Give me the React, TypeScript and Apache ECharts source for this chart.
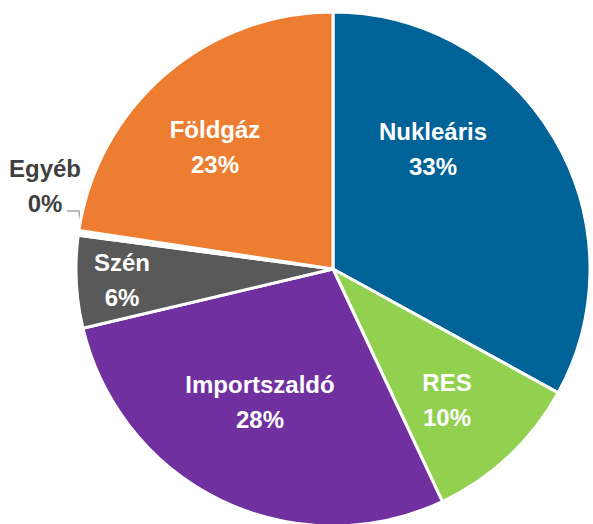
import React, { useEffect, useRef } from "react";
import * as echarts from "echarts";

const categories = ["Nukleáris", "RES", "Importszaldó", "Szén", "Egyéb", "Földgáz"];
const values = [33.0, 10.0, 28.3, 5.8, 0.3, 22.6];
const colors = ["#006398", "#92D050", "#7030A0", "#595959", "#FFFFFF", "#ED7D31"];

// label centres (layout only)
const labelPos: Record<number, [number, number]> = {
  0: [433, 149],
  1: [447, 400],
  2: [260, 402],
  3: [122, 280],
  4: [45, 186],
  5: [215, 147],
};

export default function App() {
  const ref = useRef<HTMLDivElement>(null);
  useEffect(() => {
    if (!ref.current) return;
    const chart = echarts.init(ref.current, undefined, { renderer: "svg" });
    chart.setOption({
      animation: false,
      series: [
        {
          type: "pie",
          center: [333, 269],
          radius: [0, 257],
          startAngle: 90,
          clockwise: true,
          avoidLabelOverlap: false,
          itemStyle: { borderColor: "#ffffff", borderWidth: 3 },
          label: {
            show: true,
            position: "inside",
            color: "#ffffff",
            fontFamily: "Liberation Sans",
            fontWeight: "bold",
            fontSize: 24,
            lineHeight: 35,
            align: "center",
            formatter: (p: any) => `${p.name}\n${Math.round(p.percent)}%`,
          },
          labelLine: { show: false },
          labelLayout: (params: any) => {
            const i = params.dataIndex;
            const pos = labelPos[i];
            const res: any = { x: pos[0], y: pos[1], align: "center", verticalAlign: "middle" };
            if (i === 4) {
              res.labelLinePoints = [
                [81, 226],
                [79, 211],
                [67, 211],
              ];
            }
            return res;
          },
          data: categories.map((name, i) => {
            const d: any = { name, value: values[i], itemStyle: { color: colors[i] } };
            if (i === 4) {
              d.label = { position: "outside", color: "#404040" };
              d.labelLine = { show: true, lineStyle: { color: "#A6A6A6", width: 1.5 } };
            }
            return d;
          }),
        },
      ],
    });
    return () => chart.dispose();
  }, []);
  return (
    <div
      ref={ref}
      style={{ position: "fixed", left: 0, top: 0, width: 593, height: 524, background: "#ffffff" }}
    />
  );
}
